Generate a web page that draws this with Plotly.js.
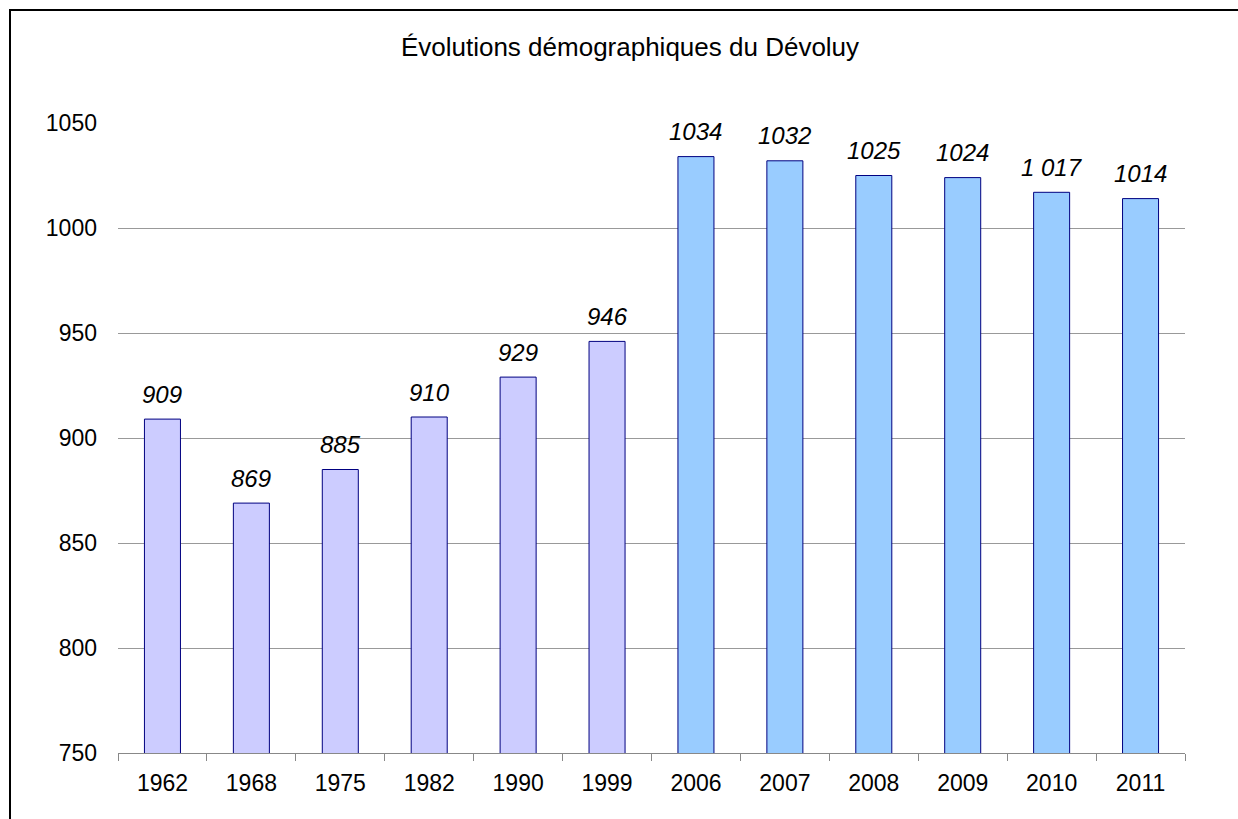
<!DOCTYPE html>
<html><head><meta charset="utf-8">
<script src="https://cdn.plot.ly/plotly-3.0.1.min.js"></script>
<style>html,body{margin:0;padding:0;background:#fff}</style>
</head><body><div id="chart" style="width:1238px;height:819px"></div>
<script>
const years = ["1962","1968","1975","1982","1990","1999","2006","2007","2008","2009","2010","2011"];
const population = [909, 869, 885, 910, 929, 946, 1034, 1032, 1025, 1024, 1017, 1014];
const valueLabels = ["909","869","885","910","929","946","1034","1032","1025","1024","1 017","1014"];
const barColors = ["#CCCCFF","#CCCCFF","#CCCCFF","#CCCCFF","#CCCCFF","#CCCCFF","#99CCFF","#99CCFF","#99CCFF","#99CCFF","#99CCFF","#99CCFF"];
const yTickValues = [750, 800, 850, 900, 950, 1000, 1050];
const chartTitle = "Évolutions démographiques du Dévoluy";

const font = "Liberation Sans, Arial, sans-serif";
const trace = {
  type: "bar", x: years, y: population,
  marker: {color: barColors, line: {color: "#000080", width: 1}},
  hoverinfo: "x+y"
};

const annotations = years.map((yr, i) => ({
  x: i, y: population[i], xref: "x", yref: "y",
  text: "<i>" + valueLabels[i] + "</i>", showarrow: false, yanchor: "middle", yshift: 25,
  font: {family: font, size: 24, color: "#000"}
}));

const layout = {
  width: 1238, height: 819,
  margin: {l: 118, r: 53, t: 123, b: 66},
  paper_bgcolor: "#fff", plot_bgcolor: "#fff",
  showlegend: false,
  bargap: 0.595,
  title: {text: chartTitle, font: {family: font, size: 26, color: "#000"},
          x: 630/1238, xref: "container", xanchor: "center", y: 1 - 47/819, yref: "container", yanchor: "middle"},
  xaxis: {type: "category", range: [-0.5, years.length - 0.5], autorange: false,
          showgrid: false, showline: true, linecolor: "#888", linewidth: 1,
          ticks: "outside", tickson: "boundaries", ticklen: 7, tickcolor: "#888", tickangle: 0,
          ticklabelstandoff: 9,
          tickfont: {family: font, size: 23, color: "#000"}, fixedrange: true},
  yaxis: {range: [750, 1050], autorange: false, tickvals: yTickValues, ticktext: yTickValues.map(String),
          showgrid: true, gridcolor: "#999", gridwidth: 1, zeroline: false, showline: false,
          ticks: "", ticklabelstandoff: 20,
          tickfont: {family: font, size: 23, color: "#000"}, fixedrange: true},
  annotations: annotations,
  shapes: [{type: "rect", xref: "paper", yref: "paper",
            x0: (10-118)/1067, x1: 1.2, y0: -0.3, y1: (753-10)/630,
            line: {color: "#000", width: 2}, fillcolor: "rgba(0,0,0,0)", layer: "below"}]
};
Plotly.newPlot("chart", [trace], layout, {displayModeBar: false, staticPlot: true});
</script></body></html>
